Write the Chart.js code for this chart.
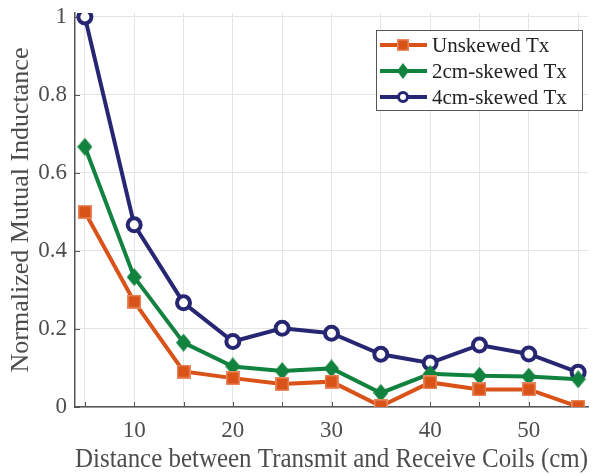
<!DOCTYPE html>
<html>
<head>
<meta charset="utf-8">
<script src="https://cdn.jsdelivr.net/npm/chart.js@4/dist/chart.umd.min.js"></script>
<style>
html,body{margin:0;padding:0;background:#fff;}
#wrap{position:relative;width:601px;height:476px;}
</style>
</head>
<body>
<div id="wrap"><canvas id="c" width="601" height="476"></canvas></div>
<script>
const distances = [5, 10, 15, 20, 25, 30, 35, 40, 45, 50, 55];
const unskewed = [0.5, 0.27, 0.091, 0.074, 0.059, 0.065, 0.002, 0.063, 0.045, 0.045, 0.001];
const skew2cm = [0.667, 0.333, 0.165, 0.104, 0.092, 0.099, 0.036, 0.085, 0.080, 0.078, 0.071];
const skew4cm = [1.0, 0.467, 0.267, 0.168, 0.202, 0.189, 0.135, 0.113, 0.159, 0.136, 0.089];
const seriesNames = ["Unskewed Tx", "2cm-skewed Tx", "4cm-skewed Tx"];
const xTickLabels = [10, 20, 30, 40, 50];
const yTickLabels = [0, 0.2, 0.4, 0.6, 0.8, 1];

const FONT = '"Liberation Serif", "Times New Roman", Times, serif';
const TXT = '#4d4d4d';
const AXIS = '#555555';

function pts(arr){ return distances.map((d,i)=>({x:d,y:arr[i]})); }

const orange = '#D95319', green = '#12823F', navy = '#262673';

function markerCanvas(kind, w, h){
  const c = document.createElement('canvas');
  c.width = w; c.height = h;
  const g = c.getContext('2d');
  if(kind==='diamond'){
    g.fillStyle = green;
    g.beginPath(); g.moveTo(w/2,0); g.lineTo(w,h/2); g.lineTo(w/2,h); g.lineTo(0,h/2); g.closePath(); g.fill();
  } else if(kind==='square'){
    g.fillStyle = '#E9885F'; g.fillRect(0,0,w,h);
    g.fillStyle = orange; g.fillRect(1.5,1.5,w-3,h-3);
  }
  return c;
}
const diamondImg = markerCanvas('diamond', 15, 18);
const squareImg = markerCanvas('square', 14, 14);
const diamondSmall = markerCanvas('diamond', 12, 16);
const squareSmall = markerCanvas('square', 12, 12);

const insideTicks = {
  id:'insideTicks',
  beforeDatasetsDraw(chart){
    const ctx = chart.ctx, xs = chart.scales.x, ys = chart.scales.y, a = chart.chartArea;
    ctx.save();
    ctx.strokeStyle = AXIS; ctx.lineWidth = 1;
    for(let v=5; v<=55; v+=5){
      const px = Math.round(xs.getPixelForValue(v))+0.5;
      ctx.beginPath(); ctx.moveTo(px, a.bottom); ctx.lineTo(px, a.bottom-5); ctx.stroke();
    }
    yTickLabels.forEach(v=>{
      const py = Math.round(ys.getPixelForValue(v))+0.5;
      ctx.beginPath(); ctx.moveTo(a.left, py); ctx.lineTo(a.left+5, py); ctx.stroke();
    });
    ctx.restore();
  }
};

const boxLegend = {
  id:'boxLegend',
  afterDraw(chart){
    const ctx = chart.ctx;
    const x0 = 376, y0 = 30, w = 206, h = 80;
    ctx.save();
    ctx.fillStyle = '#fff';
    ctx.fillRect(x0, y0, w, h);
    ctx.strokeStyle = '#555'; ctx.lineWidth = 1;
    ctx.strokeRect(x0+0.5, y0+0.5, w, h);
    ctx.font = '21px ' + FONT;
    ctx.textBaseline = 'middle';
    chart.data.datasets.forEach((ds, i)=>{
      const cy = y0 + 15 + i*26;
      ctx.strokeStyle = ds.borderColor; ctx.lineWidth = 4;
      ctx.beginPath(); ctx.moveTo(x0+4, cy); ctx.lineTo(x0+51, cy); ctx.stroke();
      const cx = x0+27;
      if(i===0){
        ctx.drawImage(squareSmall, cx-6, cy-6);
      } else if(i===1){
        ctx.drawImage(diamondSmall, cx-6, cy-8);
      } else {
        ctx.lineWidth = 3; ctx.fillStyle = '#fff'; ctx.strokeStyle = navy;
        ctx.beginPath(); ctx.arc(cx, cy, 4.5, 0, Math.PI*2); ctx.fill(); ctx.stroke();
      }
      ctx.fillStyle = '#222';
      ctx.fillText(ds.label, x0+56, cy+1);
    });
    ctx.restore();
  }
};

function build(){
new Chart(document.getElementById('c'), {
  type:'line',
  data:{
    datasets:[
      {label:seriesNames[0], data:pts(unskewed), borderColor:orange, borderWidth:4,
       pointStyle:squareImg, pointRadius:7},
      {label:seriesNames[1], data:pts(skew2cm), borderColor:green, borderWidth:4,
       pointStyle:diamondImg, pointRadius:8},
      {label:seriesNames[2], data:pts(skew4cm), borderColor:navy, borderWidth:4,
       pointStyle:'circle', pointRadius:6.5, pointBackgroundColor:'#ffffff', pointBorderColor:navy, pointBorderWidth:4}
    ]
  },
  options:{
    responsive:false, animation:false,
    font:{family:FONT},
    layout:{padding:{left:0,right:13,top:13,bottom:0}},
    plugins:{legend:{display:false}, tooltip:{enabled:false}},
    scales:{
      x:{type:'linear', min:4, max:56,
        afterFit(s){ s.height = 69; s.paddingLeft = 0; s.paddingRight = 0; },
        afterBuildTicks(s){ s.ticks = distances.map(v=>({value:v})); },
        border:{display:true, color:AXIS, width:1.5},
        grid:{color:'#e4e4e4', lineWidth:1, drawTicks:false},
        ticks:{font:{family:FONT, size:23}, color:TXT, padding:10, maxRotation:0, autoSkip:false,
          callback:(v)=> xTickLabels.includes(v) ? String(v) : ''},
        title:{display:true, text:'Distance between Transmit and Receive Coils (cm)', font:{family:FONT, size:27}, color:TXT, padding:{top:0,bottom:0}}
      },
      y:{type:'linear', min:0, max:1.01,
        afterFit(s){ s.width = 75; s.paddingTop = 0; s.paddingBottom = 0; },
        afterBuildTicks(s){ s.ticks = yTickLabels.map(v=>({value:v})); },
        border:{display:true, color:AXIS, width:1.5},
        grid:{color:'#e4e4e4', lineWidth:1, drawTicks:false},
        ticks:{font:{family:FONT, size:23}, color:TXT, padding:8, callback:(v)=>String(v)},
        title:{display:true, text:'Normalized Mutual Inductance', font:{family:FONT, size:26}, color:TXT, padding:{top:6,bottom:0}}
      }
    }
  }});
}
Chart.register(insideTicks, boxLegend);
const go = ()=>build();
if (document.fonts && document.fonts.load) {
  Promise.all([document.fonts.load('22px "Liberation Serif"')]).then(go, go);
} else go();
</script>
</body>
</html>
